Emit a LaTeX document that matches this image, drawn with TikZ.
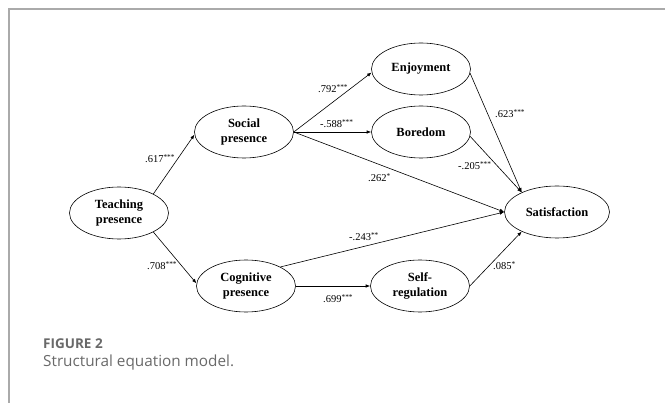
\documentclass[tikz,border=0pt]{standalone}
\usepackage{fontspec}
\setmainfont{Liberation Serif}
\newfontfamily\capfont{Open Sans}
\usetikzlibrary{arrows.meta,shapes.geometric}

\definecolor{framegray}{RGB}{170,170,170}
\definecolor{capgray}{RGB}{105,105,105}

\newcommand{\coefval}[2]{#1\textsuperscript{#2}}

\tikzset{
  latent/.style={draw, ellipse, line width=0.6pt, minimum width=99pt,
    minimum height=52pt, inner sep=0pt, align=center,
    font=\fontsize{12.5}{14.5}\selectfont\bfseries},
  regpath/.style={-{Latex[length=4.5pt,width=3.5pt]}, line width=0.6pt},
  coef/.style={anchor=base west, inner sep=0pt,
    font=\fontsize{10.5}{12}\selectfont}
}

\begin{document}
\begin{tikzpicture}[x=1pt,y=-1pt]
\useasboundingbox (0,0) rectangle (665,403);
% Frame
\draw[framegray, line width=1.8pt] (9,403) -- (9,9) -- (665,9);
% Latent variables
\node[latent] (teach) at (119,213) {Teaching\\presence};
\node[latent] (social) at (244,132) {Social\\presence};
\node[latent] (enjoy) at (421,69) {Enjoyment};
\node[latent] (bored) at (421,132) {Boredom};
\node[latent, minimum width=105pt] (satis) at (557,212) {Satisfaction};
\node[latent] (cogn) at (246,286) {Cognitive\\presence};
\node[latent] (selfreg) at (420,286) {Self-\\regulation};
% Paths
\draw[regpath] (teach.29) -- (social.183);
\draw[regpath] (teach.-29) -- (cogn.177);
\draw[regpath] (social.east) -- (enjoy.184);
\draw[regpath] (social.east) -- (bored.west);
\draw[regpath] (social.east) -- (satis.west);
\draw[regpath] (enjoy.-5) -- (satis.151);
\draw[regpath] (bored.-5) -- (satis.151);
\draw[regpath] (cogn.29) -- (satis.west);
\draw[regpath] (cogn.east) -- (selfreg.west);
\draw[regpath] (selfreg.east) -- (satis.209);
% Coefficients
\node[coef] (c1) at (145,163) {\coefval{.617}{***}};
\node[coef] (c2) at (147,270) {\coefval{.708}{***}};
\node[coef] (c3) at (318,93) {\coefval{.792}{***}};
\node[coef] (c4) at (320,128) {\coefval{-.588}{***}};
\node[coef] (c5) at (368,182) {\coefval{.262}{*}};
\node[coef] (c6) at (495,118) {\coefval{.623}{***}};
\node[coef] (c7) at (458,170) {\coefval{-.205}{***}};
\node[coef] (c8) at (349,241) {\coefval{-.243}{**}};
\node[coef] (c9) at (323,303) {\coefval{.699}{***}};
\node[coef] (c10) at (493,270) {\coefval{.085}{*}};
% Caption
\node[anchor=base west, inner sep=0pt, text=capgray,
  font=\capfont\fontsize{13.5}{16}\selectfont\bfseries] (figno) at (43,349) {FIGURE 2};
\node[anchor=base west, inner sep=0pt, text=capgray,
  font=\capfont\fontsize{15.3}{18}\selectfont] (figcap) at (43,367) {Structural equation model.};
\end{tikzpicture}
\end{document}
